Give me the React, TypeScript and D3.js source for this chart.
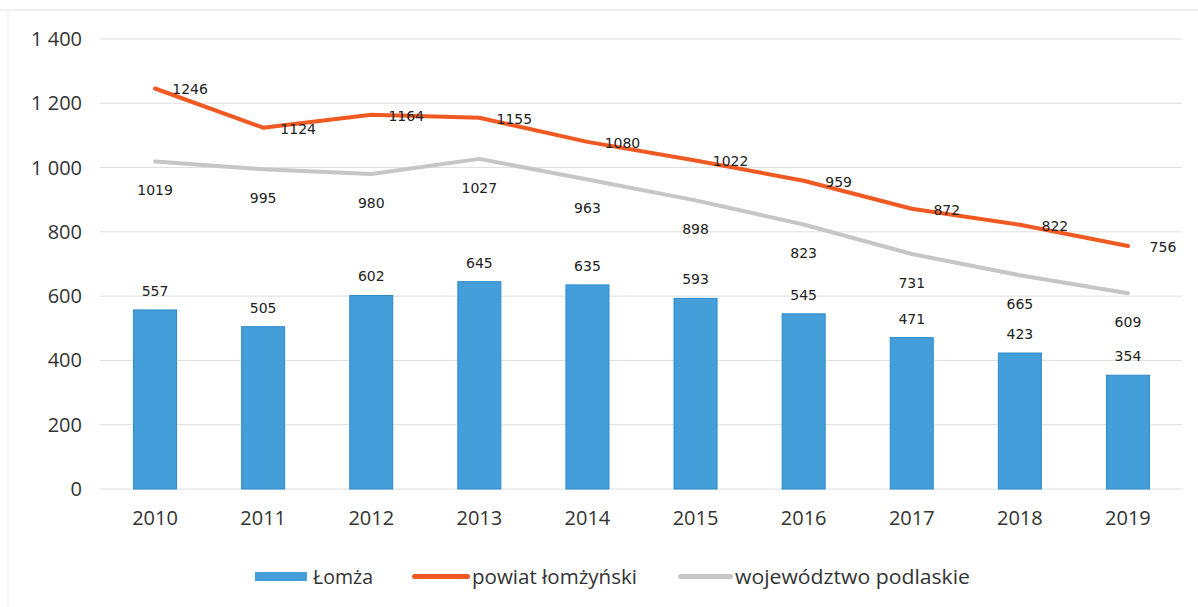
import { useMemo } from 'react';
import * as d3 from 'd3';

const WIDTH = 1198;
const HEIGHT = 607;

const years = ['2010', '2011', '2012', '2013', '2014', '2015', '2016', '2017', '2018', '2019'];
const lomza = [557, 505, 602, 645, 635, 593, 545, 471, 423, 354];
const powiat = [1246, 1124, 1164, 1155, 1080, 1022, 959, 872, 822, 756];
const wojewodztwo = [1019, 995, 980, 1027, 963, 898, 823, 731, 665, 609];
const yTicks = [0, 200, 400, 600, 800, 1000, 1200, 1400];

const BAR = '#449ed9';
const ORANGE = '#f05a22';
const GRAY = '#c6c6c6';
const TICK_FONT = '"Open Sans", "Noto Sans", sans-serif';
const LABEL_FONT = '"DejaVu Sans", sans-serif';

// "1 400" style thousands separator, as on the original axis
const fmt = (v: number) => (v >= 1000 ? `${Math.floor(v / 1000)} ${String(v % 1000).padStart(3, '0')}` : String(v));

export default function App() {
  const x = useMemo(() => d3.scaleBand<string>().domain(years).range([101, 1182]).padding(0), []);
  const y = useMemo(() => d3.scaleLinear().domain([0, 1400]).range([489, 39]), []);
  const cx = (yr: string) => (x(yr) as number) + x.bandwidth() / 2;
  const barW = 43;

  const line = d3
    .line<number>()
    .x((_, i) => cx(years[i]))
    .y((d) => y(d));

  return (
    <svg
      width={WIDTH}
      height={HEIGHT}
      style={{ position: 'absolute', left: 0, top: 0, background: '#fff' }}
    >
      <line x1={0} x2={WIDTH} y1={10} y2={10} stroke="#e4e4e4" strokeWidth={1} />
      <line x1={8} x2={8} y1={10} y2={HEIGHT} stroke="#efefef" strokeWidth={1} />

      {yTicks.map((t) => (
        <g key={t}>
          <line x1={100} x2={1182} y1={y(t)} y2={y(t)} stroke="#dedede" strokeWidth={1} />
          <text
            x={82}
            y={y(t)}
            dy="0.35em"
            textAnchor="end"
            fontFamily={TICK_FONT}
            fontSize={20}
            fill="#333"
          >
            {fmt(t)}
          </text>
        </g>
      ))}

      {years.map((yr) => (
        <text
          key={yr}
          x={cx(yr)}
          y={518}
          dy="0.35em"
          textAnchor="middle"
          fontFamily={TICK_FONT}
          fontSize={20}
          fill="#333"
        >
          {yr}
        </text>
      ))}

      {lomza.map((v, i) => (
        <rect
          key={years[i]}
          x={cx(years[i]) - barW / 2}
          y={y(v)}
          width={barW}
          height={y(0) - y(v)}
          fill={BAR}
          stroke="#2b89c9"
          strokeWidth={1}
        />
      ))}
      {lomza.map((v, i) => (
        <text
          key={`l-${years[i]}`}
          x={cx(years[i])}
          y={y(v) - 19}
          dy="0.35em"
          textAnchor="middle"
          fontFamily={LABEL_FONT}
          fontSize={14}
          fill="#222"
        >
          {v}
        </text>
      ))}

      <path d={line(wojewodztwo) ?? ''} fill="none" stroke={GRAY} strokeWidth={4} strokeLinejoin="round" strokeLinecap="round" />
      <path d={line(powiat) ?? ''} fill="none" stroke={ORANGE} strokeWidth={4} strokeLinejoin="round" strokeLinecap="round" />

      {wojewodztwo.map((v, i) => (
        <text
          key={`w-${years[i]}`}
          x={cx(years[i])}
          y={y(v) + 29}
          dy="0.35em"
          textAnchor="middle"
          fontFamily={LABEL_FONT}
          fontSize={14}
          fill="#222"
        >
          {v}
        </text>
      ))}
      {powiat.map((v, i) => (
        <text
          key={`p-${years[i]}`}
          x={cx(years[i]) + 35}
          y={y(v) + 1}
          dy="0.35em"
          textAnchor="middle"
          fontFamily={LABEL_FONT}
          fontSize={14}
          fill="#222"
        >
          {v}
        </text>
      ))}

      <g fontFamily={TICK_FONT} fontSize={20} fill="#333">
        <rect x={255} y={572} width={52} height={9} fill={BAR} />
        <text x={313} y={577} dy="0.35em" textLength={60} lengthAdjust="spacingAndGlyphs">Łomża</text>
        <rect x={412} y={574} width={58} height={5} rx={2.5} fill={ORANGE} />
        <text x={472} y={577} dy="0.35em" textLength={165} lengthAdjust="spacingAndGlyphs">powiat łomżyński</text>
        <rect x={678} y={574} width={55} height={5} rx={2.5} fill={GRAY} />
        <text x={735} y={577} dy="0.35em" textLength={235} lengthAdjust="spacingAndGlyphs">województwo podlaskie</text>
      </g>
    </svg>
  );
}
